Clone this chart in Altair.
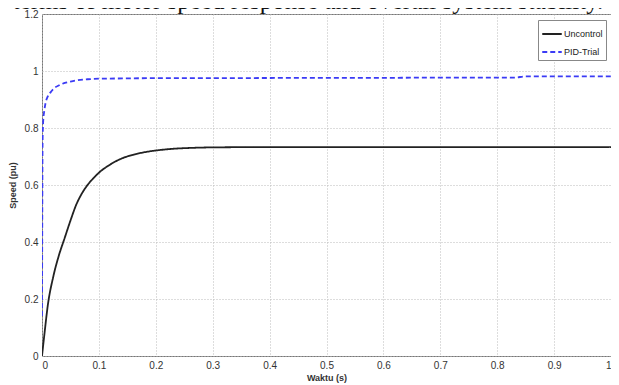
import altair as alt
import pandas as pd

caption = ["terms of motor speed response and overall system stability."]

series_names = ["Uncontrol", "PID-Trial"]

t_unc = [0, 0.005, 0.01, 0.02, 0.03, 0.04, 0.05, 0.06, 0.07, 0.08, 0.09, 0.10,
         0.12, 0.14, 0.16, 0.18, 0.20, 0.23, 0.26, 0.30, 0.40, 0.50, 0.60, 0.70,
         0.80, 0.90, 1.0]
y_unc = [0, 0.09, 0.175, 0.28, 0.355, 0.415, 0.475, 0.53, 0.57, 0.60, 0.623, 0.643,
         0.672, 0.693, 0.706, 0.715, 0.721, 0.727, 0.730, 0.732, 0.733, 0.733, 0.733, 0.733,
         0.733, 0.733, 0.733]

t_pid = [0, 0.0005, 0.001, 0.002, 0.004, 0.006, 0.01, 0.015, 0.02, 0.03, 0.04, 0.05,
         0.06, 0.08, 0.10, 0.15, 0.20, 0.30, 0.50, 0.60, 0.70, 0.83, 0.85, 1.0]
y_pid = [0.14, 0.5, 0.75, 0.82, 0.86, 0.885, 0.91, 0.925, 0.937, 0.95, 0.958, 0.963,
         0.967, 0.971, 0.973, 0.974, 0.975, 0.975, 0.976, 0.976, 0.977, 0.977, 0.981, 0.981]

x_ticks = [0, 0.1, 0.2, 0.3, 0.4, 0.5, 0.6, 0.7, 0.8, 0.9, 1.0]
y_ticks = [0, 0.2, 0.4, 0.6, 0.8, 1.0, 1.2]

df = pd.concat([
    pd.DataFrame({"t": t_unc, "speed": y_unc, "series": series_names[0]}),
    pd.DataFrame({"t": t_pid, "speed": y_pid, "series": series_names[1]}),
])

FONT = "Liberation Sans Narrow, Liberation Sans, Arial"
W, H = 569, 342

xs = alt.Scale(domain=[0, 1], nice=False)
ys = alt.Scale(domain=[0, 1.2], nice=False)

lines = alt.Chart(df).mark_line(strokeWidth=1.8, clip=True, interpolate="monotone").encode(
    x=alt.X("t:Q", scale=xs, title="Waktu (s)",
            axis=alt.Axis(values=x_ticks, format="~g", grid=True)),
    y=alt.Y("speed:Q", scale=ys, title="Speed (pu)",
            axis=alt.Axis(values=y_ticks, format="~g", grid=True)),
    color=alt.Color("series:N",
                    scale=alt.Scale(domain=series_names, range=["#222222", "#3b3bf5"]),
                    legend=alt.Legend(title=None, orient="none", legendX=496, legendY=6,
                                      symbolType="stroke", symbolSize=380, symbolStrokeWidth=1.8,
                                      labelFont=FONT, labelFontSize=9, labelColor="#222",
                                      fillColor="white", strokeColor="#888", padding=3,
                                      rowPadding=2, labelOffset=1)),
    strokeDash=alt.StrokeDash("series:N",
                              scale=alt.Scale(domain=series_names, range=[[1, 0], [5, 3]]),
                              legend=None),
    order="t:Q",
)

cap = alt.Chart(pd.DataFrame({"c": caption})).mark_text(
    font="Liberation Serif", fontSize=25, color="#111", align="center", baseline="alphabetic"
).encode(text="c:N", x=alt.value(266), y=alt.value(-5))

chart = alt.layer(lines, cap).properties(
    width=W, height=H,
    autosize=alt.AutoSizeParams(type="none"),
    padding={"left": 34, "top": 6, "right": 0, "bottom": 29},
).configure_view(stroke="#777", strokeWidth=1).configure_axis(
    labelFont=FONT, labelFontSize=10, labelColor="#333",
    titleFont=FONT, titleFontSize=9, titleFontWeight="bold", titleColor="#333",
    gridColor="#bbb", gridDash=[1, 2], gridWidth=1,
    domain=False, tickSize=0, labelPadding=4,
).configure_axisY(titlePadding=7).configure_axisX(titlePadding=3)

chart.save("out.html", embed_options={"renderer": "svg", "actions": False})
